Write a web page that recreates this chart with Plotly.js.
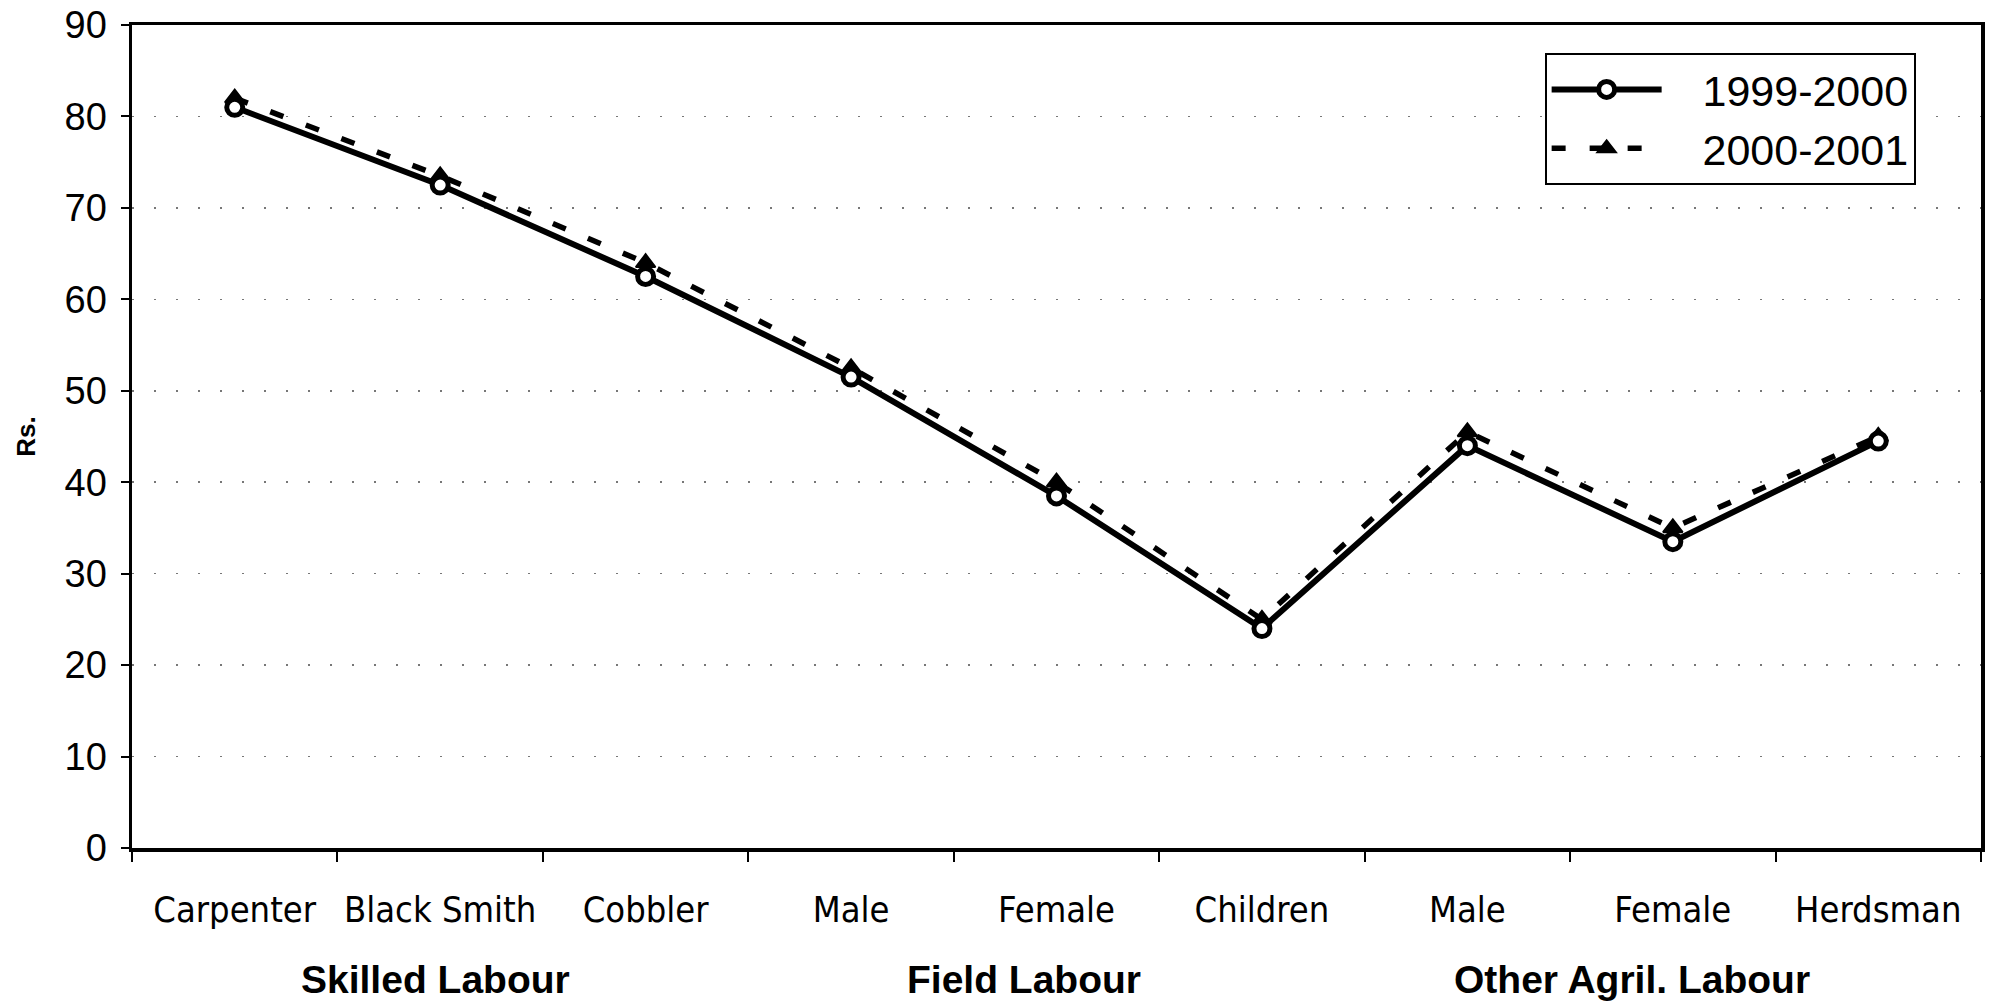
<!DOCTYPE html>
<html>
<head>
<meta charset="utf-8">
<script src="https://cdn.plot.ly/plotly-3.0.1.min.js"></script>
<style>
  html, body { margin: 0; padding: 0; background: #fff; }
  #chart { width: 2000px; height: 1002px; }
</style>
</head>
<body>
<div id="chart"></div>
<script>
// ---- data ----
const categories = ['Carpenter', 'Black Smith', 'Cobbler', 'Male', 'Female', 'Children', 'Male', 'Female', 'Herdsman'];
const groups = ['Skilled Labour', 'Field Labour', 'Other Agril. Labour'];
const groupSizes = [3, 3, 3];
const series1999 = [81, 72.5, 62.5, 51.5, 38.5, 24, 44, 33.5, 44.5];
const series2000 = [82, 73.5, 64, 52.5, 40, 25, 45.5, 35, 45];
const seriesNames = ['1999-2000', '2000-2001'];
const yTitle = 'Rs.';

// unique keys for repeated category labels (Male / Female appear twice)
const seen = {};
const keys = categories.map(c => {
  seen[c] = (seen[c] || 0) + 1;
  return c + '\u200b'.repeat(seen[c] - 1);
});

const FONT = 'Liberation Sans, Arial, Helvetica, sans-serif';
const NARROW = 'Liberation Sans Narrow, Arial Narrow, DejaVu Sans Condensed, sans-serif';
const PAD = '\u00a0\u00a0\u00a0';

const traceDashed = {
  x: keys, y: series2000, name: PAD + seriesNames[1], type: 'scatter', mode: 'lines+markers',
  line: { color: '#000', width: 5.5, dash: '14px,24px' },
  marker: { symbol: 'triangle-up', size: 17, color: '#000', line: { color: '#000', width: 2 } }
};
const traceSolid = {
  x: keys, y: series1999, name: PAD + seriesNames[0], type: 'scatter', mode: 'lines+markers',
  line: { color: '#000', width: 6 },
  marker: { symbol: 'circle', size: 16, color: '#fff', line: { color: '#000', width: 5 } }
};

// group label annotations, centred under each group's categories
const groupShift = [-5, -33, -41];
const annotations = [];
let start = 0;
groups.forEach((g, i) => {
  const centre = start + (groupSizes[i] - 1) / 2;
  annotations.push({
    x: centre, xref: 'x', y: -0.16, yref: 'paper', yanchor: 'middle', xanchor: 'center',
    xshift: groupShift[i], showarrow: false, text: '<b>' + g + '</b>',
    font: { family: FONT, size: 39, color: '#000' }
  });
  start += groupSizes[i];
});

const layout = {
  width: 2000, height: 1002,
  margin: { l: 132, r: 19, t: 25, b: 154 },
  paper_bgcolor: '#fff', plot_bgcolor: '#fff',
  showlegend: true,
  legend: {
    x: 0.764, y: 0.966, xanchor: 'left', yanchor: 'top',
    traceorder: 'reversed',
    bgcolor: '#fff', bordercolor: '#000', borderwidth: 2,
    font: { family: FONT, size: 43, color: '#000' },
    itemwidth: 110, tracegroupgap: 0
  },
  xaxis: {
    type: 'category', categoryorder: 'array', categoryarray: keys,
    tickson: 'boundaries', ticks: 'outside', ticklen: 10, tickwidth: 2, tickcolor: '#000',
    showline: true, linecolor: '#000', linewidth: 3.5, mirror: true,
    showgrid: false, zeroline: false,
    tickangle: 0,
    tickfont: { family: NARROW, size: 36, color: '#000' },
    ticklabelstandoff: 27,
    range: [-0.5, categories.length - 0.5]
  },
  yaxis: {
    range: [0, 90], dtick: 10, tick0: 0,
    ticks: 'outside', ticklen: 8, tickwidth: 2, tickcolor: '#000',
    showline: true, linecolor: '#000', linewidth: 3.5, mirror: true,
    showgrid: true, gridcolor: '#777', gridwidth: 1.5, griddash: '2px,20px',
    zeroline: false,
    tickfont: { family: FONT, size: 38, color: '#000' },
    ticklabelstandoff: 6,
    title: { text: '<b>' + yTitle + '</b>', font: { family: FONT, size: 26, color: '#000' }, standoff: 22 }
  },
  annotations: annotations
};

Plotly.newPlot('chart', [traceDashed, traceSolid], layout, { displayModeBar: false, staticPlot: true });
</script>
</body>
</html>
